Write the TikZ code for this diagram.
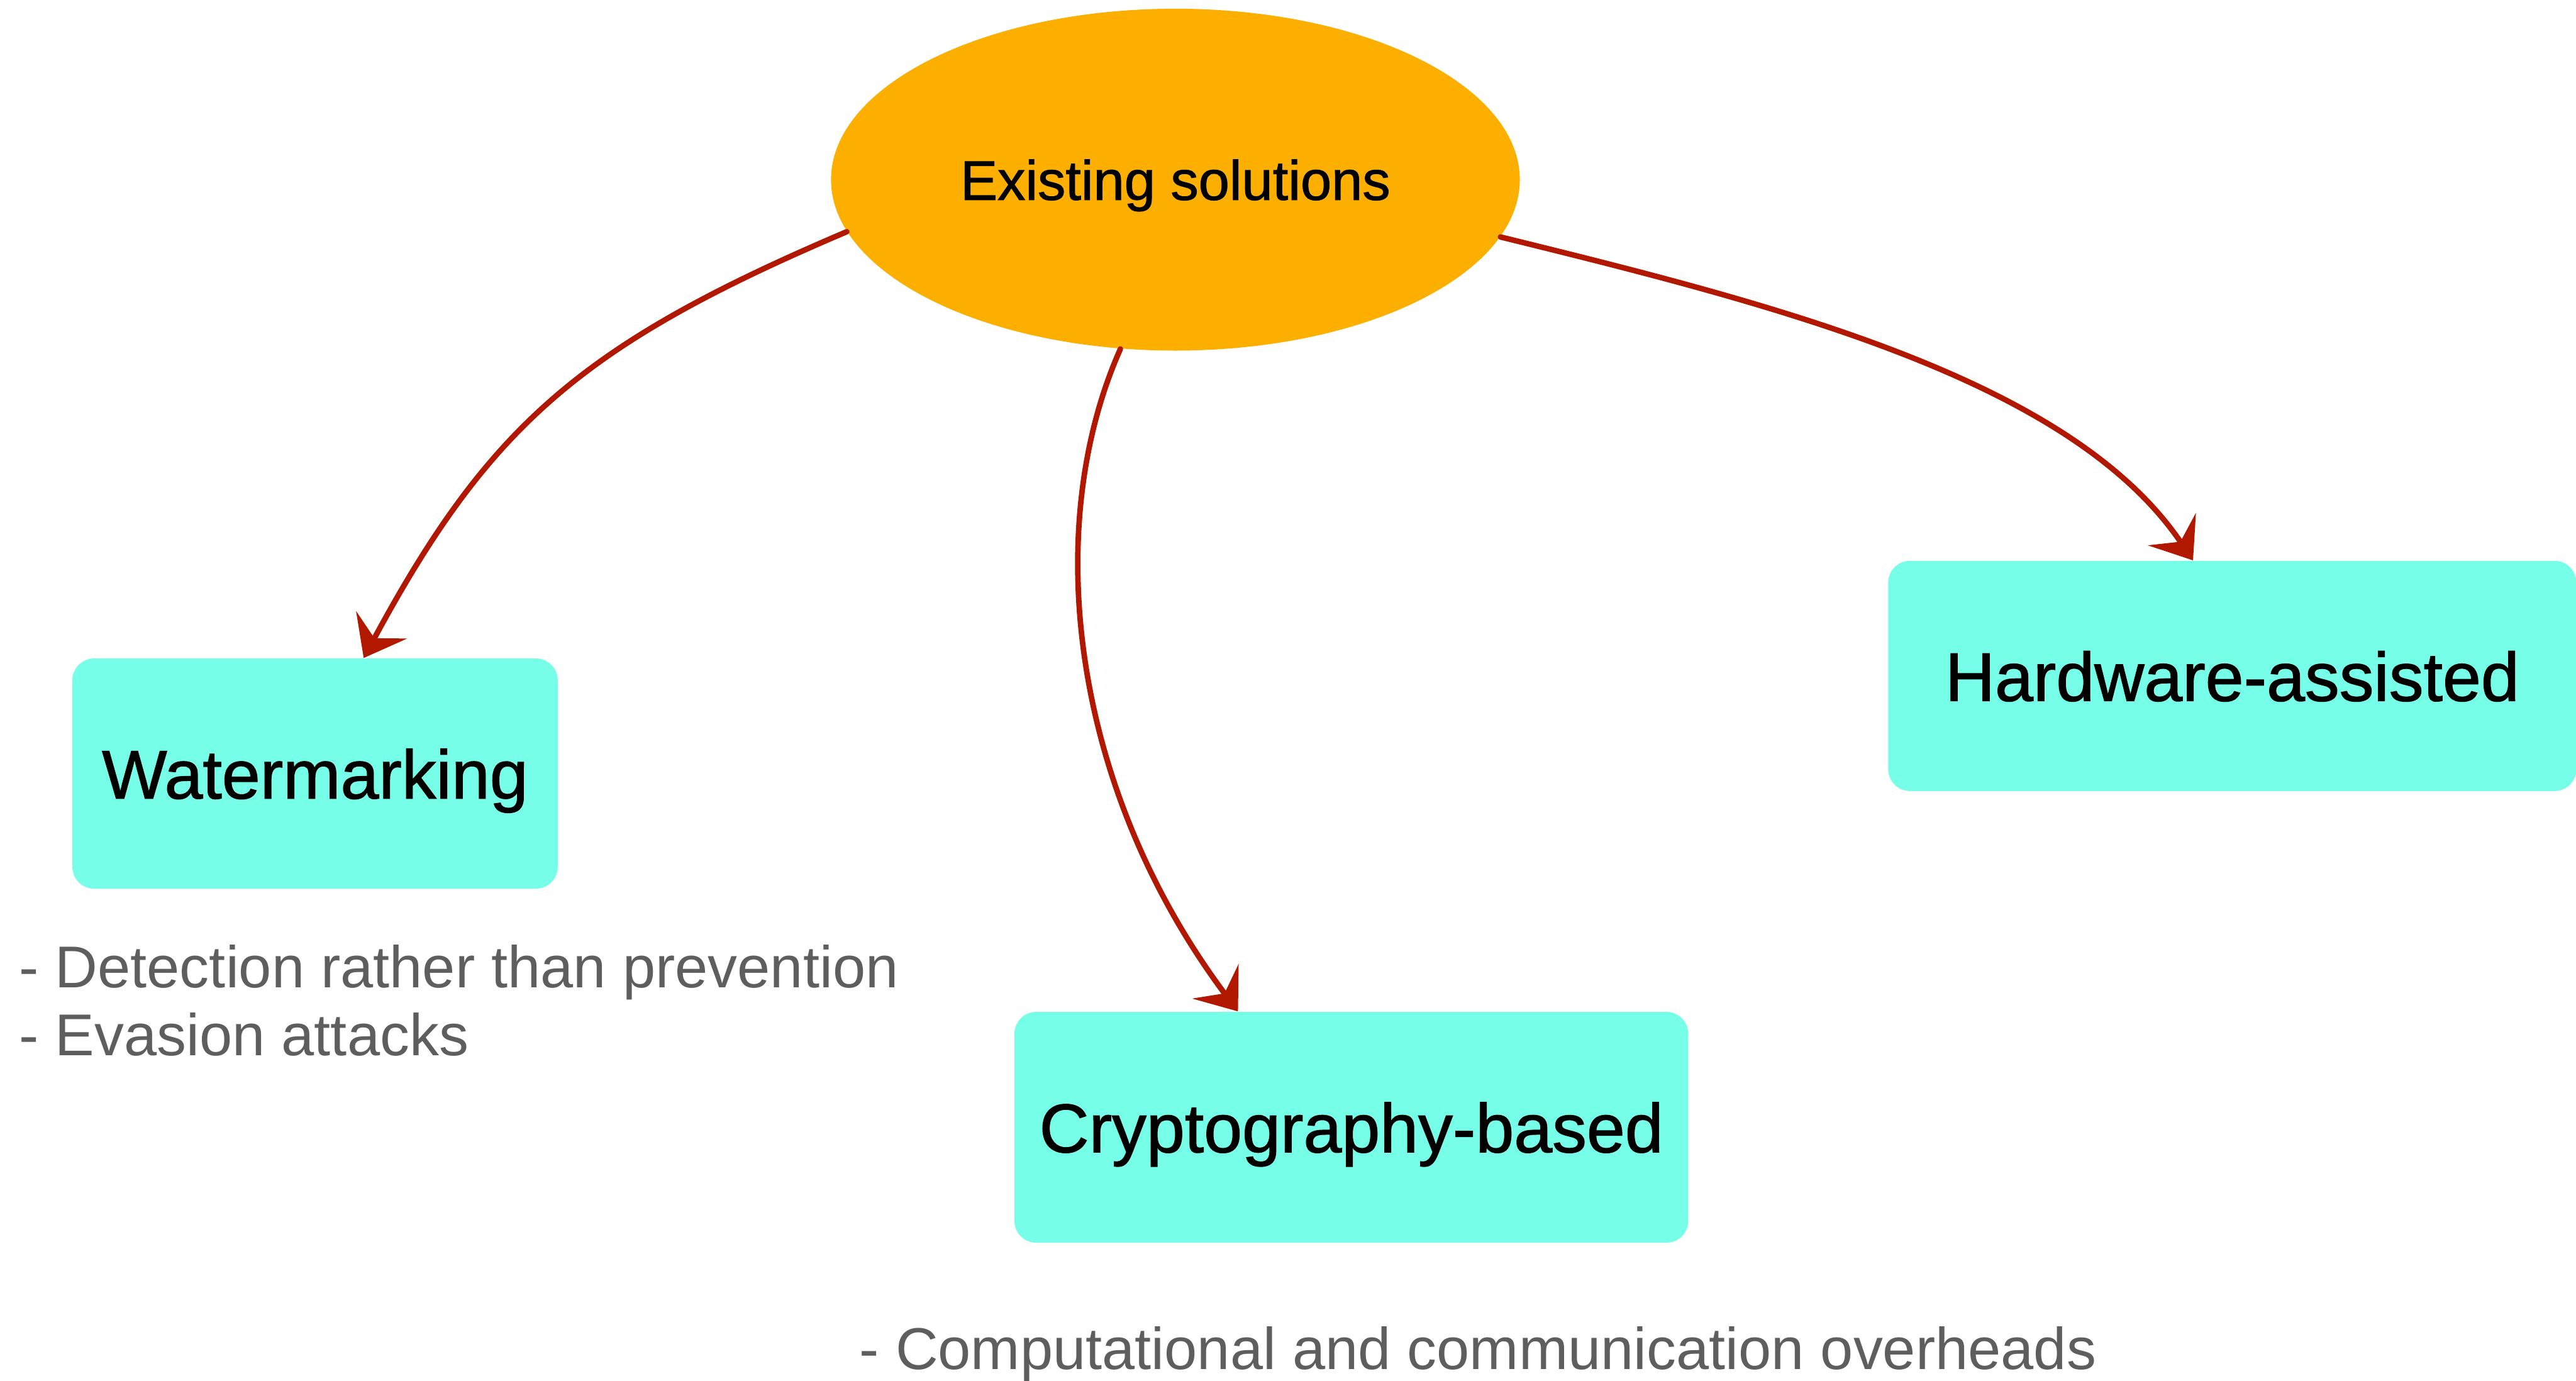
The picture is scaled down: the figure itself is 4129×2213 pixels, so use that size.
\documentclass[tikz,border=0pt]{standalone}
\usepackage{fontspec}
\setmainfont{Liberation Sans}
\newfontfamily\medfont[FakeBold=1.2]{Liberation Sans}
\usetikzlibrary{arrows.meta,shapes.geometric,calc}
\definecolor{orangefill}{HTML}{FDAF00}
\definecolor{cyanfill}{HTML}{76FEE9}
\definecolor{arrowred}{HTML}{B21800}
\definecolor{greytext}{HTML}{5E5E5E}
\begin{document}
\begin{tikzpicture}[x=0.25pt,y=-0.25pt,
  hub/.style={ellipse, fill=orangefill, minimum width=276pt, minimum height=137pt, inner sep=0pt,
    font=\medfont\fontsize{22.3pt}{26pt}\selectfont, text depth=0pt},
  box/.style={rectangle, rounded corners=8.75pt, fill=cyanfill, inner sep=0pt, minimum height=92.25pt,
    font=\medfont\fontsize{27.6pt}{33pt}\selectfont, text depth=0pt},
  note/.style={anchor=base west, inner sep=0pt, text=greytext, font=\fontsize{23.65pt}{27pt}\selectfont},
  link/.style={draw=arrowred, line width=2.2pt, line cap=round,
    -{Stealth[length=15pt,width=23pt,inset=6pt]}}
]
\useasboundingbox (0,0) rectangle (4129,2213);

\node[hub] (ell) at (1884,288) {Existing solutions};
\node[box, minimum width=194.5pt] (wm) at (505,1240) {Watermarking};
\node[box, minimum width=270pt, minimum height=92.5pt] (cr) at (2166,1807) {Cryptography-based};
\node[box, minimum width=275.75pt] (hw) at (3578,1083.5) {Hardware-assisted};

\node[note] (d1) at (30,1583) {- Detection rather than prevention};
\node[note] (d2) at (30,1692) {- Evasion attacks};
\node[note] (c1) at (1377,2195) {- Computational and communication overheads};

\draw[link] (ell.189) .. controls (935,551) and (785,680) .. ($(wm.north west)!0.6!(wm.north east)$);
\draw[link] (ell.252) .. controls (1669,844) and (1715,1261) .. ($(cr.north west)!0.332!(cr.north east)$);
\draw[link] (ell.350) .. controls (2849,489) and (3319,608) .. ($(hw.north west)!0.443!(hw.north east)$);
\end{tikzpicture}
\end{document}
